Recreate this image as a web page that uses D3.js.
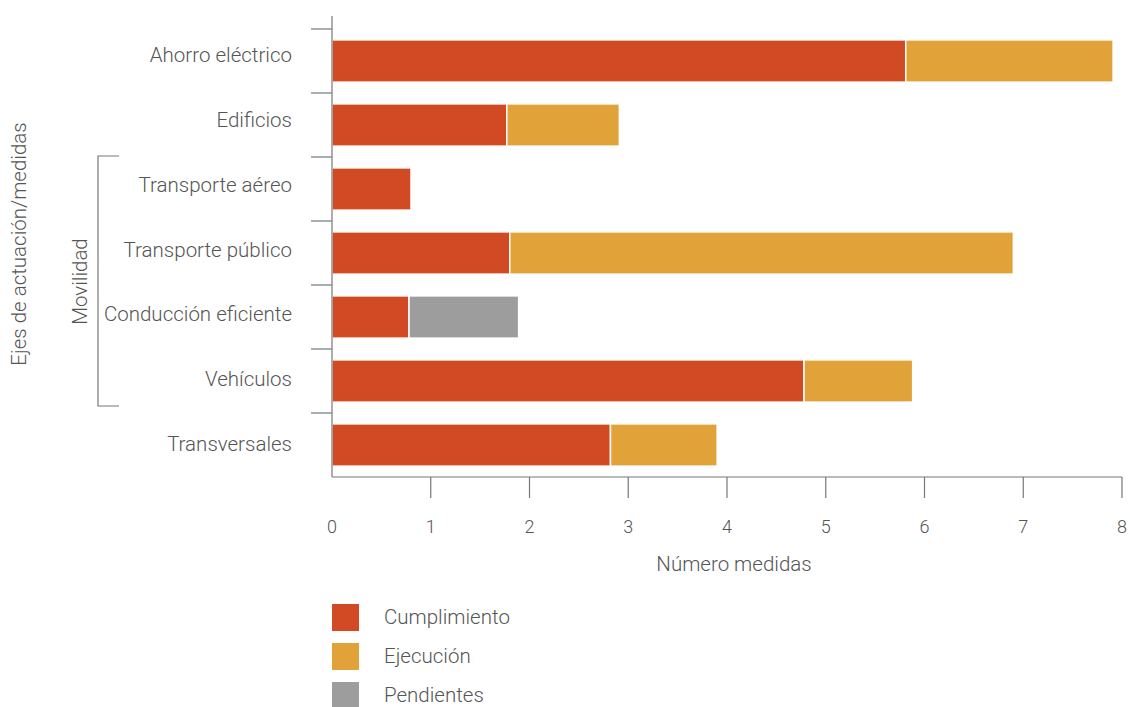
<!DOCTYPE html>
<html>
<head>
<meta charset="utf-8">
<script src="https://cdn.jsdelivr.net/npm/d3@7"></script>
<style>
  body { margin: 0; background: #fff; }
  svg text { font-family: Roboto, "DejaVu Sans", sans-serif; font-weight: 300; fill: #555; }
</style>
</head>
<body>
<svg id="chart" width="1130" height="707"></svg>
<script>
const categories = ['Ahorro eléctrico', 'Edificios', 'Transporte aéreo', 'Transporte público', 'Conducción eficiente', 'Vehículos', 'Transversales']
const cumplimiento = [5.81, 1.77, 0.8, 1.8, 0.78, 4.78, 2.82]
const ejecucion = [2.1, 1.14, 0, 5.1, 0, 1.1, 1.08]
const pendientes = [0, 0, 0, 0, 1.11, 0, 0]
const seriesNames = ['Cumplimiento', 'Ejecución', 'Pendientes']
const colors = ['#d14a23', '#e2a23a', '#9d9d9e']
const xTicks = [0, 1, 2, 3, 4, 5, 6, 7, 8]

const svg = d3.select('#chart')
const LEFT = 332, RIGHT = 1122, TOP = 29, BOTTOM = 477
const FS = '20.5px'

const x = d3.scaleLinear().domain([0, 8]).range([LEFT, RIGHT])
const y = d3.scaleBand().domain(categories).range([TOP, BOTTOM]).paddingInner(0.34).paddingOuter(0.17)
// labels sit a little above the bar centres in the original
const yLabel = d3.scalePoint().domain(categories).range([55, 444])

const rows = categories.map((c, i) => ({ cat: c, v: [cumplimiento[i], ejecucion[i], pendientes[i]] }))

// stacked bars
rows.forEach(r => {
    let acc = 0
    r.v.forEach((v, k) => {
        if (v > 0) {
            svg.append('rect')
                .attr('x', x(acc))
                .attr('y', y(r.cat))
                .attr('width', x(acc + v) - x(acc))
                .attr('height', y.bandwidth())
                .attr('fill', colors[k])
                .attr('stroke', '#fff')
                .attr('stroke-width', 1.5)
            acc += v
        }
    })
})

const axisColor = '#777'

// y axis line and category boundary ticks
svg.append('line').attr('x1', LEFT).attr('x2', LEFT).attr('y1', 16).attr('y2', BOTTOM)
    .attr('stroke', axisColor).attr('stroke-width', 1.2)
const step = y.step()
d3.range(categories.length).forEach(i => {
    const yy = TOP + i * step
    svg.append('line').attr('x1', LEFT - 21).attr('x2', LEFT).attr('y1', yy).attr('y2', yy)
        .attr('stroke', axisColor).attr('stroke-width', 1.2)
})

// category labels
svg.selectAll('.cat').data(categories).enter().append('text')
    .attr('class', 'cat')
    .attr('x', 292)
    .attr('y', d => yLabel(d))
    .attr('text-anchor', 'end')
    .attr('dominant-baseline', 'central')
    .style('font-size', FS)
    .text(d => d)

// x axis
svg.append('line').attr('x1', LEFT).attr('x2', RIGHT).attr('y1', BOTTOM).attr('y2', BOTTOM)
    .attr('stroke', axisColor).attr('stroke-width', 1.2)
xTicks.forEach(t => {
    if (t > 0) {
        svg.append('line').attr('x1', x(t)).attr('x2', x(t)).attr('y1', BOTTOM).attr('y2', BOTTOM + 21)
            .attr('stroke', axisColor).attr('stroke-width', 1.2)
    }
    svg.append('text').attr('x', x(t)).attr('y', 526)
        .attr('text-anchor', 'middle').attr('dominant-baseline', 'central')
        .style('font-size', '18px').text(t)
})

svg.append('text').attr('x', 734).attr('y', 564)
    .attr('text-anchor', 'middle').attr('dominant-baseline', 'central')
    .style('font-size', FS).text('Número medidas')

// y axis title
svg.append('text').attr('transform', 'translate(19,244) rotate(-90)')
    .attr('text-anchor', 'middle').attr('dominant-baseline', 'central')
    .style('font-size', FS).text('Ejes de actuación/medidas')

// Movilidad bracket
const bTop = TOP + 2 * step, bBot = TOP + 6 * step - 7
svg.append('path')
    .attr('d', `M119,${bTop - 1}H98V${bBot}H119`)
    .attr('fill', 'none').attr('stroke', axisColor).attr('stroke-width', 1.2)
svg.append('text').attr('transform', `translate(80,${(bTop + bBot) / 2}) rotate(-90)`)
    .attr('text-anchor', 'middle').attr('dominant-baseline', 'central')
    .style('font-size', FS).text('Movilidad')

// legend
seriesNames.forEach((s, i) => {
    const ly = 604 + i * 39
    svg.append('rect').attr('x', 332).attr('y', ly).attr('width', 27).attr('height', 27).attr('fill', colors[i])
    svg.append('text').attr('x', 384).attr('y', ly + 13)
        .attr('dominant-baseline', 'central').style('font-size', FS).text(s)
})
</script>
</body>
</html>
